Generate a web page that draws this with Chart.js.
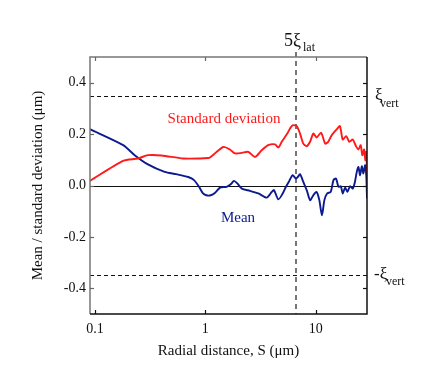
<!DOCTYPE html>
<html><head><meta charset="utf-8">
<script src="https://cdn.jsdelivr.net/npm/chart.js@4.4.1/dist/chart.umd.min.js"></script>
<style>html,body{margin:0;padding:0;background:#fff}#wrap{width:436px;height:387px}</style>
</head><body><div id="wrap"><canvas id="c" width="436" height="387"></canvas></div>
<script>
const stdS = [0.0899,0.18,0.245,0.302,0.4,0.628,0.895,1.06,1.10,1.27,1.46,1.67,1.86,2.14,2.45,2.82,3.24,3.72,4.28,4.59,4.93,5.53,5.86,6.07,6.28,6.74,7.22,7.73,8.3,8.9,9.53,10.2,11.2,12.2,13.0,14.0,15.5,16.6,17.6,18.9,20.2,21.7,23.2,24.4,25.6,26.5,27.5,28.2,28.8,29.2];
const stdV = [0.018,0.096,0.105,0.118,0.117,0.105,0.105,0.107,0.109,0.131,0.150,0.140,0.125,0.127,0.131,0.111,0.137,0.157,0.160,0.148,0.170,0.202,0.222,0.231,0.235,0.231,0.202,0.163,0.153,0.170,0.202,0.187,0.205,0.163,0.170,0.196,0.218,0.231,0.179,0.192,0.170,0.179,0.153,0.140,0.157,0.118,0.140,0.098,0.131,0.053];
const meanS = [0.0899,0.18,0.229,0.302,0.428,0.546,0.70,0.79,0.877,0.953,1.02,1.10,1.22,1.36,1.56,1.70,1.82,1.95,2.14,2.54,3.02,3.6,4.0,4.19,4.59,5.03,5.38,5.77,6.19,6.63,6.97,7.22,7.73,8.3,8.9,9.53,10.2,10.8,11.4,12.0,12.7,13.7,14.5,15.3,16.1,16.9,17.6,18.5,19.4,20.5,21.7,22.7,23.6,24.4,25.3,26.2,27.1,28.1,28.8,29.2];
const meanV = [0.219,0.157,0.118,0.082,0.053,0.044,0.033,0.021,-0.005,-0.031,-0.038,-0.039,-0.029,-0.008,-0.005,0.005,0.018,0.008,-0.012,-0.021,-0.031,-0.047,-0.025,-0.018,-0.054,-0.031,-0.005,0.018,0.040,0.027,0.036,0.044,0.014,-0.018,-0.057,-0.038,-0.025,-0.057,-0.116,-0.057,-0.031,-0.025,0.021,0.027,-0.005,-0.003,-0.031,-0.008,-0.025,-0.003,-0.012,0.014,0.053,0.072,0.040,0.075,0.047,0.079,0.034,-0.050];
const xTicks = [0.1, 1, 10];
const xTickLabels = ['0.1', '1', '10'];
const yTicks = [-0.4, -0.2, 0.0, 0.2, 0.4];
const yTickLabels = ['-0.4', '-0.2', '0.0', '0.2', '0.4'];
const xiLat5 = 6.64;
const xiVert = 0.35;
const xRange = [0.0901, 29.2];
const yRange = [-0.5, 0.5];

const SERIF = '"Liberation Serif", "Times New Roman", serif';

const deco = {
  id: 'deco',
  beforeDatasetsDraw(chart) {
    const {ctx, chartArea: a, scales: {x, y}} = chart;
    ctx.save();
    ctx.strokeStyle = '#111'; ctx.lineWidth = 1.2;
    const y0 = Math.round(y.getPixelForValue(0)) + 0.5;
    ctx.beginPath(); ctx.moveTo(a.left, y0); ctx.lineTo(a.right, y0); ctx.stroke();
    ctx.setLineDash([4, 3]); ctx.lineWidth = 1; ctx.strokeStyle = '#111';
    [xiVert, -xiVert].forEach(v => {
      const yy = Math.round(y.getPixelForValue(v)) + 0.5;
      ctx.beginPath(); ctx.moveTo(a.left, yy); ctx.lineTo(a.right, yy); ctx.stroke();
    });
    ctx.setLineDash([5, 4]); ctx.lineWidth = 2; ctx.strokeStyle = '#777';
    const xx = Math.round(x.getPixelForValue(xiLat5));
    ctx.beginPath(); ctx.moveTo(xx, a.top - 5); ctx.lineTo(xx, a.bottom); ctx.stroke();
    ctx.restore();
  },
  afterDraw(chart) {
    const {ctx, chartArea: a, scales: {x, y}} = chart;
    ctx.save();
    ctx.lineWidth = 1.5;
    ctx.strokeStyle = '#777';
    ctx.beginPath(); ctx.moveTo(a.left, a.bottom); ctx.lineTo(a.left, a.top); ctx.lineTo(a.right, a.top); ctx.stroke();
    ctx.strokeStyle = '#111';
    ctx.beginPath(); ctx.moveTo(a.left, a.bottom); ctx.lineTo(a.right, a.bottom); ctx.lineTo(a.right, a.top); ctx.stroke();
    ctx.lineWidth = 1.2;
    xTicks.forEach(v => {
      const px = Math.round(x.getPixelForValue(v)) + 0.5;
      ctx.strokeStyle = '#111';
      ctx.beginPath(); ctx.moveTo(px, a.bottom); ctx.lineTo(px, a.bottom - 4); ctx.stroke();
      ctx.strokeStyle = '#666';
      ctx.beginPath(); ctx.moveTo(px, a.top); ctx.lineTo(px, a.top + 4); ctx.stroke();
    });
    yTicks.forEach(v => {
      const py = Math.round(y.getPixelForValue(v)) + 0.5;
      ctx.strokeStyle = '#666';
      ctx.beginPath(); ctx.moveTo(a.left, py); ctx.lineTo(a.left + 4, py); ctx.stroke();
      ctx.strokeStyle = '#111';
      ctx.beginPath(); ctx.moveTo(a.right, py); ctx.lineTo(a.right - 4, py); ctx.stroke();
    });
    ctx.textBaseline = 'alphabetic';
    ctx.fillStyle = '#ff1a1a'; ctx.font = '15px ' + SERIF; ctx.textAlign = 'center';
    ctx.fillText('Standard deviation', 224, 123);
    ctx.fillStyle = '#0b1a8f';
    ctx.fillText('Mean', 238, 222);
    ctx.fillStyle = '#111'; ctx.textAlign = 'left';
    ctx.font = '18px ' + SERIF;
    ctx.fillText('5\u03BE', 284, 46);
    ctx.font = '12px ' + SERIF;
    ctx.fillText('lat', 303, 51);
    ctx.font = '17px ' + SERIF;
    ctx.fillText('\u03BE', 375, 100);
    ctx.font = '12px ' + SERIF;
    ctx.fillText('vert', 380, 107);
    ctx.font = '17px ' + SERIF;
    ctx.fillText('-\u03BE', 374, 279);
    ctx.font = '12px ' + SERIF;
    ctx.fillText('vert', 386, 285);
    ctx.restore();
  }
};

new Chart(document.getElementById('c'), {
  type: 'line',
  data: {
    datasets: [
      { label: 'Standard deviation', data: stdS.map((s, i) => ({x: s, y: stdV[i]})),
        borderColor: '#ff1a1a', borderWidth: 1.9, pointRadius: 0, tension: 0.25, fill: false },
      { label: 'Mean', data: meanS.map((s, i) => ({x: s, y: meanV[i]})),
        borderColor: '#0b1a8f', borderWidth: 1.9, pointRadius: 0, tension: 0.25, fill: false }
    ]
  },
  options: {
    responsive: false, animation: false, devicePixelRatio: 1,
    layout: { padding: { left: 0, right: 69, top: 57, bottom: 0 } },
    plugins: { legend: { display: false }, tooltip: { enabled: false } },
    scales: {
      x: {
        type: 'logarithmic', min: xRange[0], max: xRange[1],
        afterBuildTicks: s => { s.ticks = xTicks.map(v => ({value: v})); },
        afterFit: s => { s.height = 73; },
        grid: { display: false, drawTicks: false }, border: { display: false },
        ticks: { autoSkip: false, maxRotation: 0, padding: 7, color: '#111',
          font: { family: SERIF, size: 14 },
          callback: (v) => { const i = xTicks.indexOf(v); return i >= 0 ? xTickLabels[i] : ''; } },
        title: { display: true, text: 'Radial distance, S (\u03BCm)', color: '#111',
          font: { family: SERIF, size: 15 }, padding: { top: 0, bottom: 27 } }
      },
      y: {
        type: 'linear', min: yRange[0], max: yRange[1],
        afterBuildTicks: s => { s.ticks = yTicks.map(v => ({value: v})); },
        afterFit: s => { s.width = 90; },
        grid: { display: false, drawTicks: false }, border: { display: false },
        ticks: { autoSkip: false, padding: 4, color: '#111',
          font: { family: SERIF, size: 14 },
          callback: (v) => { const i = yTicks.findIndex(t => Math.abs(t - v) < 1e-9); return i >= 0 ? yTickLabels[i] : ''; } },
        title: { display: true, text: 'Mean / standard deviation (\u03BCm)', color: '#111',
          font: { family: SERIF, size: 15 }, padding: { top: 29, bottom: 0 } }
      }
    }
  },
  plugins: [deco]
});
</script></body></html>
